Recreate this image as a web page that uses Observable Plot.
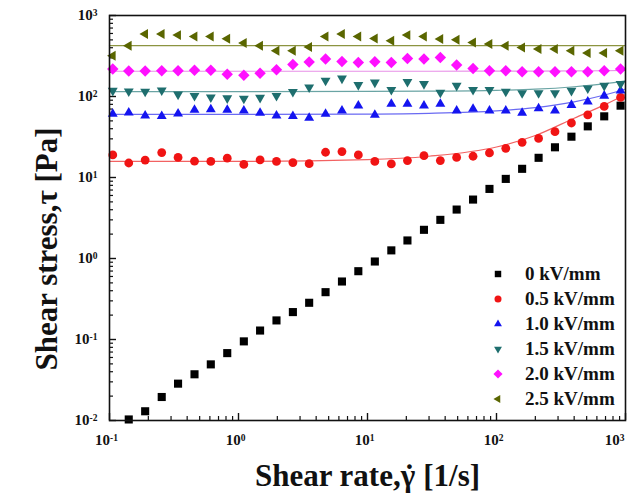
<!DOCTYPE html>
<html><head><meta charset="utf-8">
<script src="https://cdn.jsdelivr.net/npm/d3@7"></script>
<script src="https://cdn.jsdelivr.net/npm/@observablehq/plot@0.6"></script>
<style>
body{margin:0;background:#fff;}
#wrap{position:relative;width:629px;height:500px;background:#fff;}
#legend{position:absolute;left:488px;top:261px;font-family:"Liberation Serif",serif;font-weight:bold;font-size:19px;color:#111;}
#legend .row{display:flex;align-items:center;height:25px;}
#legend svg{width:20px;height:14px;margin-right:17px;}
</style></head><body><div id="wrap"><div id="legend"></div></div>
<script>
// ---------- data ----------
const seriesNames = ["0 kV/mm","0.5 kV/mm","1.0 kV/mm","1.5 kV/mm","2.0 kV/mm","2.5 kV/mm"];
const shearRate = [0.106,0.141,0.189,0.254,0.340,0.456,0.610,0.818,1.10,1.47,1.97,2.64,3.53,4.73,6.34,8.49,11.4,15.3,20.4,27.4,36.7,49.1,65.8,88.2,118,158,212,284,381,510,684,916];
const stress00 = [null,0.0103,0.0130,0.0195,0.0285,0.0372,0.0493,0.0679,0.0948,0.129,0.172,0.218,0.284,0.384,0.520,0.697,0.918,1.26,1.67,2.26,3.00,4.02,5.34,7.23,9.61,12.8,17.5,23.6,31.9,42.8,56.9,77.1];
const stress05 = [19.0,15.1,16.4,20.3,17.7,15.9,15.8,17.3,14.5,16.5,15.8,15.3,14.8,20.5,20.9,19.0,15.8,14.7,16.2,18.6,16.2,17.7,18.3,20.1,22.9,27.2,30.4,36.8,47.1,59.2,75.5,97.5];
const stress10 = [60.8,63.1,58.0,57.1,61.4,68.4,69.2,68.4,66.8,62.6,58.0,57.1,54.5,60.8,66.8,77.1,59.2,80.8,80.8,77.1,80.8,66.8,70.1,66.8,66.8,62.6,71.3,66.8,78.5,86.3,102,118];
const stress15 = [118,116,115,119,106,102,97.5,95.3,94.5,96.6,102,114,130,157,167,139,149,121,152,143,112,136,121,121,115,110,110,110,118,126,136,143];
const stress20 = [218,206,206,208,208,211,211,188,183,194,214,248,266,290,271,263,269,263,295,290,303,245,222,208,208,202,202,202,202,202,208,218];
const stress25 = [318,423,590,590,573,551,551,516,457,423,367,367,409,551,590,551,520,488,573,551,512,501,465,444,423,403,385,385,367,344,344,367];
// fitted curves
const fitRate = [0.1,1,10,30,100,200,400,700,1000];
const fit05 = [15.8,15.8,16.6,18.3,23.8,33,54,80,106];
const fit10 = [60,60,60.7,62,66.5,73,86,105,124];
const fit15 = [115,115,115.4,116.3,119,123,132,144,156];
const fit20 = [205,205,205,205,206,206,207,208,210];
const fit25 = [425,425,425,425,425,425,425,425,425];
// axis ticks
const xMajor = [0.1,1,10,100,1000];
const xMinor = [0.2,0.3,0.4,0.5,0.6,0.7,0.8,0.9,2,3,4,5,6,7,8,9,20,30,40,50,60,70,80,90,200,300,400,500,600,700,800,900];
const yMajor = [0.01,0.1,1,10,100,1000];
const yMinor = [0.02,0.03,0.04,0.05,0.06,0.07,0.08,0.09,0.2,0.3,0.4,0.5,0.6,0.7,0.8,0.9,2,3,4,5,6,7,8,9,20,30,40,50,60,70,80,90,200,300,400,500,600,700,800,900];
const xTitle = "Shear rate,\u03B3\u0307 [1/s]";
const yTitle = "Shear stress,\u03C4 [Pa]";

// ---------- symbols ----------
const triUp = {draw(c,s){const R=Math.sqrt(s/Math.PI)*1.3;c.moveTo(0,-R);c.lineTo(R*0.866,R*0.5);c.lineTo(-R*0.866,R*0.5);c.closePath();}};
const triDown = {draw(c,s){const R=Math.sqrt(s/Math.PI)*1.3;c.moveTo(0,R);c.lineTo(R*0.866,-R*0.5);c.lineTo(-R*0.866,-R*0.5);c.closePath();}};
const triLeft = {draw(c,s){const R=Math.sqrt(s/Math.PI)*1.3;c.moveTo(-R,0);c.lineTo(R*0.5,-R*0.866);c.lineTo(R*0.5,R*0.866);c.closePath();}};
const diamond = {draw(c,s){const D=Math.sqrt(s/Math.PI)*1.3;c.moveTo(0,-D);c.lineTo(D,0);c.lineTo(0,D);c.lineTo(-D,0);c.closePath();}};
const square = {draw(c,s){const h=Math.sqrt(s/Math.PI)*0.92;c.rect(-h,-h,2*h,2*h);}};
const circle = {draw(c,s){const r=Math.sqrt(s/Math.PI);c.moveTo(r,0);c.arc(0,0,r,0,2*Math.PI);}};

const series = [
  {name: seriesNames[0], y: stress00, fit: null,  color:"#000000", line:null,      symbol:square},
  {name: seriesNames[1], y: stress05, fit: fit05, color:"#f01414", line:"#f26262", symbol:circle},
  {name: seriesNames[2], y: stress10, fit: fit10, color:"#1414f0", line:"#6a6af2", symbol:triUp},
  {name: seriesNames[3], y: stress15, fit: fit15, color:"#1e6e6e", line:"#6aa4a4", symbol:triDown},
  {name: seriesNames[4], y: stress20, fit: fit20, color:"#ff10ff", line:"#e890e8", symbol:diamond},
  {name: seriesNames[5], y: stress25, fit: fit25, color:"#5a6600", line:"#8c9440", symbol:triLeft}
];

const W=629,H=500,mL=109,mR=4,mT=15,mB=80;
const fw=W-mL-mR, fh=H-mT-mB;
const fmt = d => "10^" + Math.round(Math.log10(d));

const marks = [
  Plot.axisX({ticks:xMajor, tickSize:0, tickPadding:14, tickFormat:fmt, fontSize:15, fontWeight:"bold", dx:-3, label:null}),
  Plot.axisY({ticks:yMajor, tickSize:0, tickPadding:12, tickFormat:fmt, fontSize:15, fontWeight:"bold", label:null}),
  Plot.ruleX(xMajor, {x:d=>d, insetTop:fh-7, stroke:"#111", strokeWidth:1.4}),
  Plot.ruleX(xMinor, {x:d=>d, insetTop:fh-4, stroke:"#111", strokeWidth:1.2}),
  Plot.ruleY(yMajor, {y:d=>d, insetRight:fw-7, stroke:"#111", strokeWidth:1.4}),
  Plot.ruleY(yMinor, {y:d=>d, insetRight:fw-4, stroke:"#111", strokeWidth:1.2})
];
for (const s of series) {
  if (s.fit) marks.push(Plot.line(fitRate.map((x,i)=>({x, y:s.fit[i]})), {x:"x", y:"y", stroke:s.line, strokeWidth:1.2, curve:"monotone-x"}));
}
for (const s of series) {
  const rows = shearRate.map((x,i)=>({x, y:s.y[i]})).filter(d=>d.y!=null);
  marks.push(Plot.dot(rows, {x:"x", y:"y", r:4.4, symbol:s.symbol, fill:s.color, stroke:"none"}));
}
marks.push(Plot.frame({stroke:"#111", strokeWidth:1.6}));
marks.push(Plot.text([xTitle], {text:d=>d, frameAnchor:"bottom", textAnchor:"middle", lineAnchor:"middle", dy:56, fontSize:31, fontWeight:"bold", fill:"#111"}));
marks.push(Plot.text([yTitle], {text:d=>d, frameAnchor:"left", textAnchor:"middle", lineAnchor:"middle", rotate:-90, dx:-62, dy:31, fontSize:31, fontWeight:"bold", fill:"#111"}));

const svg = Plot.plot({
  width:W, height:H, marginLeft:mL, marginRight:mR, marginTop:mT, marginBottom:mB,
  style:{fontFamily:"'Liberation Serif', serif", background:"#fff", color:"#111"},
  x:{type:"log", domain:[0.1,1000]},
  y:{type:"log", domain:[0.01,1000]},
  marks
});

const ns = "http://www.w3.org/2000/svg";
function tspan(parent, txt, attrs={}) {
  const t = document.createElementNS(ns,"tspan"); t.textContent = txt;
  for (const k in attrs) t.setAttribute(k, attrs[k]);
  parent.appendChild(t); return t;
}
// superscript exponents in tick labels
svg.querySelectorAll('g[aria-label="x-axis tick label"] text, g[aria-label="y-axis tick label"] text').forEach(t=>{
  const s = t.textContent; if (!s.includes("^")) return;
  const [b,e] = s.split("^");
  t.textContent = "";
  tspan(t, b);
  tspan(t, e, {dy:"-0.45em", "font-size":"9.5px"});
});
// keep the last x label inside the picture
const xl = svg.querySelectorAll('g[aria-label="x-axis tick label"] text');
if (xl.length) { const last = xl[xl.length-1]; last.setAttribute("text-anchor","end"); last.setAttribute("dx","2"); }
// dot over gamma
svg.querySelectorAll("text").forEach(t=>{
  const s = t.textContent;
  if (s === xTitle) {
    const [a, rest] = s.split("\u0307");
    t.textContent = "";
    tspan(t, a);
    tspan(t, "\u02D9", {dx:"-11"});
    tspan(t, rest, {dx:"1"});
  }
});
document.getElementById("wrap").prepend(svg);

// legend
const leg = document.getElementById("legend");
for (const s of series) {
  const row = document.createElement("div"); row.className="row";
  const sv = document.createElementNS(ns,"svg");
  sv.setAttribute("viewBox","-10 -7 20 14");
  const p = document.createElementNS(ns,"path");
  p.setAttribute("d", d3.symbol(s.symbol, Math.PI*3.5*3.5)());
  p.setAttribute("fill", s.color);
  sv.appendChild(p); row.appendChild(sv);
  const sp = document.createElement("span"); sp.textContent = s.name; row.appendChild(sp);
  leg.appendChild(row);
}
</script></body></html>
